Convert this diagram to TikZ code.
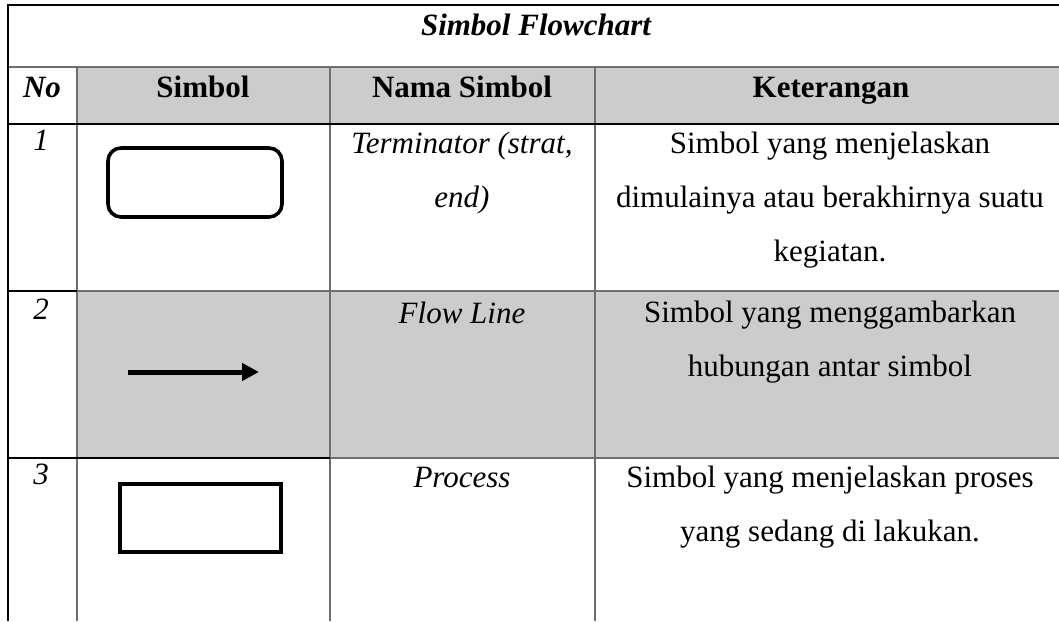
\documentclass[tikz,border=0pt]{standalone}
\usepackage{fontspec}
\setmainfont{Liberation Serif}
\usetikzlibrary{arrows.meta}
\definecolor{cellgrey}{HTML}{CCCCCC}
\definecolor{rulegrey}{HTML}{6E6E6E}

\begin{document}
\begin{tikzpicture}[x=1pt,y=-1pt,
    txt/.style={font=\fontsize{31}{54}\selectfont, inner sep=0pt, anchor=base, align=center},
    thinrule/.style={draw=rulegrey, line width=1.6pt},
    thickrule/.style={draw=black, line width=2.2pt},
    symbol/.style={draw=black, line width=3.6pt}]
    \useasboundingbox (0,0) rectangle (1059,621);

    % shaded cells
    \fill [cellgrey] (77,67) rectangle (1059,124);
    \fill [cellgrey] (77,291) rectangle (1059,458);

    % grey rules
    \foreach \x in {77,330,595}{%
        \draw [thinrule] (\x,67) -- (\x,621);}
    \draw [thinrule] (8,67) -- (1059,67);
    \draw [thinrule] (77,291) -- (1059,291);
    \draw [thinrule] (330,458) -- (1059,458);

    % black rules
    \draw [thickrule] (8,621) -- (8,5) -- (1059,5);
    \draw [thickrule] (8,124) -- (1059,124);
    \draw [thickrule] (8,291) -- (77,291);
    \draw [thickrule] (8,458) -- (330,458);

    % title and header
    \node [txt, font=\fontsize{31}{54}\selectfont\bfseries\itshape] (title) at (536,35) {Simbol Flowchart};
    \node [txt, font=\fontsize{31}{54}\selectfont\bfseries\itshape] (hno) at (42,97) {No};
    \node [txt, font=\fontsize{31}{54}\selectfont\bfseries] (hsym) at (203,97) {Simbol};
    \node [txt, font=\fontsize{31}{54}\selectfont\bfseries] (hname) at (462,97) {Nama Simbol};
    \node [txt, font=\fontsize{31}{54}\selectfont\bfseries] (hket) at (831,97) {Keterangan};

    % row 1 (multi-line nodes sit on their last baseline)
    \node [txt, font=\fontsize{31}{54}\selectfont\itshape] (no1) at (41,150) {1};
    \draw [symbol, rounded corners=13pt] (108,148) rectangle (282,217);
    \node [txt, font=\fontsize{31}{54}\selectfont\itshape] (name1) at (462,207) {Terminator (strat,\\end)};
    \node [txt] (ket1) at (830,261) {Simbol yang menjelaskan\\dimulainya atau berakhirnya suatu\\kegiatan.};

    % row 2
    \node [txt, font=\fontsize{31}{54}\selectfont\itshape] (no2) at (41,319) {2};
    \coordinate (flowA) at (128,372);
    \coordinate (flowB) at (259,372);
    \draw [draw=black, line width=5pt, -{Triangle[length=17pt,width=17pt]}] (flowA) -- (flowB);
    \node [txt, font=\fontsize{31}{54}\selectfont\itshape] (name2) at (462,323) {Flow Line};
    \node [txt] (ket2) at (830,376) {Simbol yang menggambarkan\\hubungan antar simbol};

    % row 3
    \node [txt, font=\fontsize{31}{54}\selectfont\itshape] (no3) at (41,484) {3};
    \draw [symbol] (120,484) rectangle (281,552);
    \node [txt, font=\fontsize{31}{54}\selectfont\itshape] (name3) at (462,487) {Process};
    \node [txt] (ket3) at (830,541) {Simbol yang menjelaskan proses\\yang sedang di lakukan.};
\end{tikzpicture}
\end{document}
